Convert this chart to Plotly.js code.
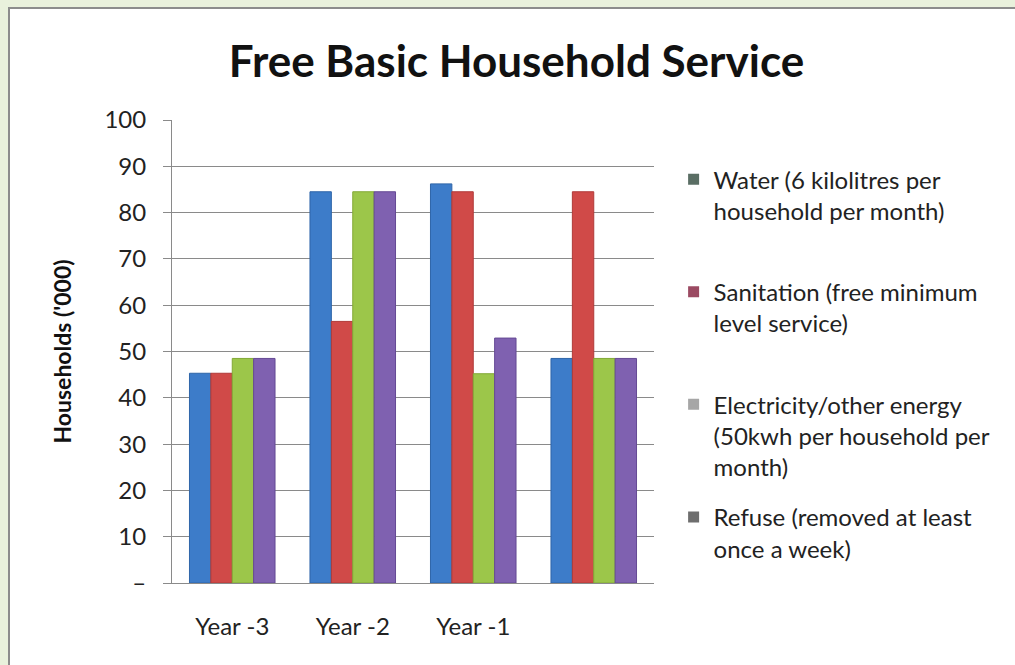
<!DOCTYPE html>
<html>
<head>
<meta charset="utf-8">
<script src="https://cdn.plot.ly/plotly-3.0.1.min.js"></script>
<style>
  html, body { margin: 0; padding: 0; background: #e9f1dc; width: 1015px; height: 665px; overflow: hidden; }
  #frame { position: absolute; left: 8px; top: 7px; width: 1007px; height: 658px;
           border-left: 2px solid #8c8c8c; border-top: 2px solid #8c8c8c; background: #ffffff; }
  #chart { width: 1007px; height: 658px; }
</style>
</head>
<body>
<div id="frame"><div id="chart"></div></div>
<script>
// ---- data ----
const categories = ["Year -3", "Year -2", "Year -1", ""];
const water       = [45.3, 84.5, 86.2, 48.5];
const sanitation  = [45.3, 56.5, 84.5, 84.5];
const electricity = [48.5, 84.5, 45.2, 48.5];
const refuse      = [48.5, 84.5, 52.9, 48.5];
const seriesNames = [
  "Water (6 kilolitres per<br>household per month)<br>\u00a0",
  "Sanitation (free minimum<br>level service)<br>\u00a0",
  "Electricity/other energy<br>(50kwh per household per<br>month)",
  "Refuse (removed at least<br>once a week)<br>\u00a0"
];
const yTickVals = [0, 10, 20, 30, 40, 50, 60, 70, 80, 90, 100];
const yTickText = ["\u2013", "10", "20", "30", "40", "50", "60", "70", "80", "90", "100"];

// ---- styles ----
const barColors   = ["#3d7cc9", "#d04a48", "#9cc64a", "#7f61b0"];
const edgeColors  = ["#2f65a8", "#b03a38", "#82a836", "#654a94"];
const legendColors = ["#5a6e64", "#9b4a62", "#a6a6a6", "#6e6e6e"];
const seriesValues = [water, sanitation, electricity, refuse];

const traces = [];
seriesValues.forEach((vals, i) => {
  traces.push({
    type: "bar",
    x: categories.map((c, k) => k),
    y: vals,
    name: seriesNames[i],
    showlegend: false,
    marker: { color: barColors[i], line: { color: edgeColors[i], width: 1 } },
    hoverinfo: "y"
  });
});
// legend keys (the original legend keys are greyish squares)
seriesNames.forEach((n, i) => {
  traces.push({
    type: "scatter",
    mode: "markers",
    x: [null], y: [null],
    name: n,
    legendgroup: "g" + i,
    showlegend: true,
    marker: { color: legendColors[i], symbol: "square", size: 11 }
  });
});

const font = "Lato, 'Open Sans', 'DejaVu Sans', sans-serif";

const layout = {
  width: 1007, height: 658,
  paper_bgcolor: "#ffffff",
  plot_bgcolor: "#ffffff",
  margin: { l: 162, r: 363, t: 111, b: 84 },
  font: { family: font, color: "#222" },
  title: {
    text: "<b>Free Basic Household Service</b>",
    font: { family: font, size: 44, color: "#111" },
    x: 0.503, xanchor: "center",
    y: 0.92, yanchor: "middle"
  },
  barmode: "group",
  bargap: 0.29,
  bargroupgap: 0,
  xaxis: {
    tickmode: "array",
    tickvals: categories.map((c, k) => k),
    ticktext: categories,
    range: [-0.5, 3.5],
    tickfont: { family: font, size: 24, color: "#222" },
    showgrid: false,
    showline: true, linecolor: "#8a8a8a", linewidth: 1,
    ticks: "", ticklabelstandoff: 22,
    zeroline: false
  },
  yaxis: {
    range: [0, 100],
    tickmode: "array",
    tickvals: yTickVals,
    ticktext: yTickText,
    tickfont: { family: font, size: 24, color: "#222" },
    ticks: "outside", ticklen: 8, tickcolor: "#8a8a8a",
    ticklabelstandoff: 12,
    showgrid: true, gridcolor: "#8a8a8a", gridwidth: 1,
    showline: true, linecolor: "#8a8a8a", linewidth: 1,
    zeroline: false,
    title: { text: "<b>Households ('000)</b>", font: { family: font, size: 23, color: "#111" }, standoff: 26 }
  },
  legend: {
    xref: "container", yref: "container",
    x: 0.659, xanchor: "left",
    y: 0.775, yanchor: "top",
    font: { family: font, size: 24, color: "#222" },
    traceorder: "grouped",
    tracegroupgap: 16,
    valign: "top",
    itemwidth: 30,
    maxheight: 600,
    bgcolor: "rgba(0,0,0,0)"
  },
  showlegend: true
};

Plotly.newPlot("chart", traces, layout, { displayModeBar: false, staticPlot: true });
</script>
</body>
</html>
